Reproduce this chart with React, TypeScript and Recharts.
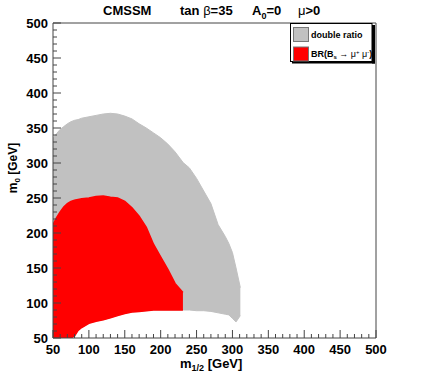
import React from "react";
import {
  ComposedChart,
  Area,
  XAxis,
  YAxis,
  ReferenceLine,
} from "recharts";

// m_1/2 grid (GeV) where the region edges were read
const mHalf = [
  50, 55, 60, 65, 70, 75, 80, 85, 90, 100, 110, 120, 130, 140, 150, 160, 170,
  180, 190, 200, 210, 220, 231, 232, 240, 250, 260, 270, 280, 290, 295, 300,
  305, 311,
];

// "double ratio" region (grey): lower / upper m_0 edge
const grayLow = [
  50, 50, 50, 50, 50, 50, 53, 61, 65, 71, 74, 76, 79, 82, 85, 87, 88, 89, 90,
  90, 90, 90, 90, 90, 90, 89, 89, 88, 86, 84, 83, 78, 73, 82,
];
const grayHigh = [
  336, 342, 348, 352, 356, 359, 361, 362, 364, 366, 368, 370, 371, 370, 367,
  363, 356, 350, 343, 336, 327, 316, 301, 300, 293, 278, 260, 242, 212, 195,
  185, 172, 150, 122,
];

// BR(Bs -> mu mu) region (red), ends at m_1/2 = 231
const redLow = [
  50, 50, 50, 50, 50, 50, 53, 61, 65, 71, 74, 76, 79, 82, 85, 87, 88, 89, 90,
  90, 90, 90, 90,
];
const redHigh = [
  212, 222, 230, 237, 242, 245, 247, 248, 249, 250, 252, 253, 251, 250, 245,
  236, 224, 208, 184, 166, 148, 128, 115,
];

const majorTicks = [50, 100, 150, 200, 250, 300, 350, 400, 450, 500];
const axisTicks = majorTicks.flatMap((t) =>
  t < 500 ? [t, t + 10, t + 20, t + 30, t + 40] : [t]
);

const table = mHalf.map((x, i) => ({
  x,
  gray: [grayLow[i], grayHigh[i]],
  red: i < redHigh.length ? [redLow[i], redHigh[i]] : undefined,
}));

const FONT = "'Liberation Sans', Arial, Helvetica, sans-serif";
const GRAY = "#c1c1c1";
const AXIS = "#444";

const XTick = (props: any) => {
  const { x, y, payload } = props;
  const v = payload.value;
  const major = v % 50 === 0;
  return (
    <g>
      <line x1={x} x2={x} y1={y} y2={y - (major ? 8 : 4)} stroke={AXIS} />
      {major && (
        <text
          x={x}
          y={y + 16}
          textAnchor="middle"
          fontSize={13}
          fontWeight="bold"
          fontFamily={FONT}
          fill="#000"
        >
          {v}
        </text>
      )}
    </g>
  );
};

const YTick = (props: any) => {
  const { x, y, payload } = props;
  const v = payload.value;
  const major = v % 50 === 0;
  return (
    <g>
      <line x1={x} x2={x + (major ? 8 : 4)} y1={y} y2={y} stroke={AXIS} />
      {major && (
        <text
          x={x - 5}
          y={y + 4.5}
          textAnchor="end"
          fontSize={13}
          fontWeight="bold"
          fontFamily={FONT}
          fill="#000"
        >
          {v}
        </text>
      )}
    </g>
  );
};

const Labels = () => (
  <svg
    width={436}
    height={376}
    style={{ position: "absolute", left: 0, top: 0, pointerEvents: "none" }}
    fontFamily={FONT}
    fontWeight="bold"
  >
    <text x={103} y={15} fontSize={13}>CMSSM</text>
    <text x={180} y={15} fontSize={13}>
      tan <tspan fontWeight="normal">β</tspan>=35
    </text>
    <text x={252} y={15} fontSize={13}>
      A<tspan fontSize={9} dy={4}>0</tspan>
      <tspan dy={-4}>=0</tspan>
    </text>
    <text x={298} y={15} fontSize={13}>
      <tspan fontWeight="normal">μ</tspan>&gt;0
    </text>

    <text x={180} y={368} fontSize={13}>
      m<tspan fontSize={9} dy={3}>1/2</tspan>
      <tspan dy={-3}> [GeV]</tspan>
    </text>
    <text
      x={0}
      y={0}
      fontSize={12}
      textAnchor="middle"
      transform="translate(17,168) rotate(-90)"
    >
      m<tspan fontSize={8} dy={3}>0</tspan>
      <tspan dy={-3}> [GeV]</tspan>
    </text>

    <defs>
      <clipPath id="legclip">
        <rect x={290} y={23} width={82} height={39} />
      </clipPath>
    </defs>
    <rect x={292} y={61.5} width={83} height={2} fill="#000" />
    <rect x={372} y={25} width={3} height={38.5} fill="#000" />
    <rect x={290.5} y={23.5} width={81.5} height={38} fill="#fff" stroke="#000" strokeWidth={1} />
    <rect x={293.5} y={27.5} width={15} height={14} fill={GRAY} stroke="#777" />
    <rect x={293.5} y={47} width={15} height={14} fill="#ff0000" stroke="#777" />
    <g clipPath="url(#legclip)" fontSize={9}>
      <text x={311} y={38}>double ratio</text>
      <text x={311} y={56.5}>
        BR(B<tspan fontSize={6} dy={2}>s</tspan>
        <tspan dy={-2} fontWeight="normal"> → μ</tspan>
        <tspan fontSize={6} dy={-3} fontWeight="normal">+</tspan>
        <tspan dy={3} fontWeight="normal"> μ</tspan>
        <tspan fontSize={6} dy={-3} fontWeight="normal">-</tspan>
        <tspan dy={3}>)</tspan>
      </text>
    </g>
  </svg>
);

export default function App() {
  return (
    <div
      style={{
        position: "absolute",
        left: 0,
        top: 0,
        width: 436,
        height: 376,
        background: "#fff",
      }}
    >
      <ComposedChart
        width={436}
        height={376}
        data={table}
        margin={{ top: 23, right: 60, bottom: 0, left: 0 }}
      >
        <Area
          type="linear"
          dataKey="gray"
          stroke={GRAY}
          strokeWidth={1}
          fill={GRAY}
          fillOpacity={1}
          isAnimationActive={false}
          dot={false}
          activeDot={false}
        />
        <Area
          type="linear"
          dataKey="red"
          stroke="#ff0000"
          strokeWidth={1.5}
          fill="#ff0000"
          fillOpacity={1}
          isAnimationActive={false}
          dot={false}
          activeDot={false}
        />
        <XAxis
          dataKey="x"
          type="number"
          domain={[50, 500]}
          allowDataOverflow
          ticks={axisTicks}
          interval={0}
          height={38}
          tickSize={0}
          tickMargin={0}
          tickLine={false}
          axisLine={{ stroke: AXIS }}
          tick={<XTick />}
        />
        <YAxis
          type="number"
          domain={[50, 500]}
          allowDataOverflow
          ticks={axisTicks}
          interval={0}
          width={53}
          tickSize={0}
          tickMargin={0}
          tickLine={false}
          axisLine={{ stroke: AXIS }}
          tick={<YTick />}
        />
        <ReferenceLine y={500} stroke={AXIS} />
        <ReferenceLine x={500} stroke={AXIS} />
      </ComposedChart>
      <Labels />
    </div>
  );
}
